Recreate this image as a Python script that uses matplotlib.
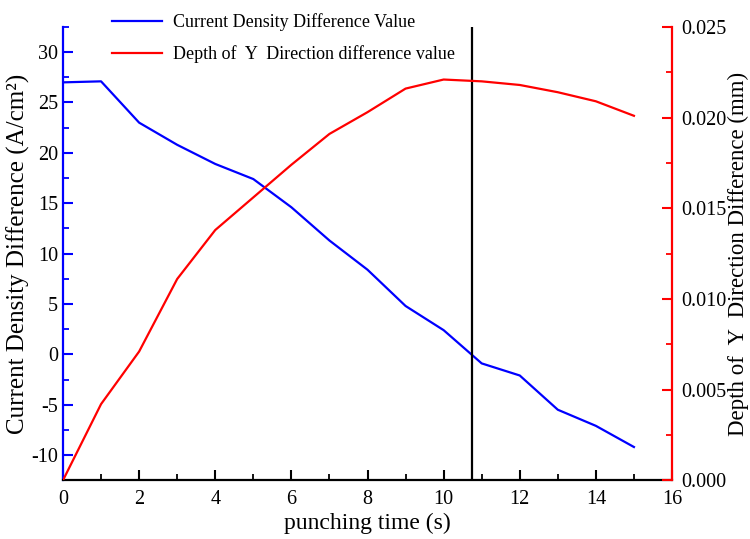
import matplotlib
matplotlib.use("Agg")
import matplotlib.pyplot as plt
from matplotlib.ticker import MultipleLocator, FormatStrFormatter

plt.rcParams['font.family'] = ['Liberation Serif', 'DejaVu Serif']
plt.rcParams['axes.unicode_minus'] = False

time_s = [0, 1, 2, 3, 4, 5, 6, 7, 8, 9, 10, 11, 12, 13, 14, 15]
current_diff = [27.0, 27.1, 23.0, 20.8, 18.9, 17.4, 14.6, 11.3, 8.4, 4.8, 2.4,
                -0.9, -2.1, -5.5, -7.1, -9.2]
depth_diff = [0.0000, 0.0042, 0.0071, 0.0111, 0.0138, 0.0156, 0.0174, 0.0191,
              0.0203, 0.0216, 0.0221, 0.0220, 0.0218, 0.0214, 0.0209, 0.0201]
marker_time = 10.75

fig = plt.figure(figsize=(7.5, 5.39), dpi=100)
ax = fig.add_axes([0.084, 0.109, 0.812, 0.841])
ax2 = ax.twinx()

l1, = ax.plot(time_s, current_diff, color='#0000FF', lw=1.6,
              label='Current Density Difference Value')
l2, = ax2.plot(time_s, depth_diff, color='#FF0000', lw=1.6,
               label='Depth of  Y  Direction difference value')
ax.axvline(marker_time, color='black', lw=1.6)

ax.set_xlim(0, 16)
ax.set_ylim(-12.5, 32.5)
ax2.set_ylim(0, 0.025)

ax.xaxis.set_major_locator(MultipleLocator(2))
ax.xaxis.set_minor_locator(MultipleLocator(1))
ax.yaxis.set_major_locator(MultipleLocator(5))
ax.yaxis.set_minor_locator(MultipleLocator(2.5))
ax2.yaxis.set_major_locator(MultipleLocator(0.005))
ax2.yaxis.set_minor_locator(MultipleLocator(0.0025))
ax2.yaxis.set_major_formatter(FormatStrFormatter('%.3f'))

for a in (ax, ax2):
    a.spines['top'].set_visible(False)
ax2.spines['left'].set_visible(False)
ax2.spines['bottom'].set_visible(False)
ax.spines['right'].set_visible(False)
ax.spines['left'].set_color('#0000FF')
ax.spines['left'].set_linewidth(1.6)
ax.spines['bottom'].set_linewidth(1.6)
ax2.spines['right'].set_color('#FF0000')
ax2.spines['right'].set_linewidth(1.6)

ax.tick_params(axis='both', which='both', direction='in', labelsize=14.5)
ax.tick_params(axis='both', which='major', length=7, width=1.5)
ax.tick_params(axis='both', which='minor', length=4, width=1.3)
ax.tick_params(axis='x', which='major', pad=7)
ax.tick_params(axis='y', which='both', color='#0000FF')
ax2.tick_params(axis='y', which='both', direction='in', color='#FF0000', labelsize=14.5)
ax2.tick_params(axis='y', which='major', length=7, width=1.5, pad=6.5)
ax2.tick_params(axis='y', which='minor', length=4, width=1.3)

ax.set_xlabel('punching time (s)', fontsize=17, labelpad=3)
ax.set_ylabel('Current Density Difference (A/cm²)', fontsize=18, labelpad=1)
ax2.set_ylabel('Depth of  Y  Direction Difference (mm)', fontsize=16.5, labelpad=1)

fig.legend(handles=[l1, l2], loc='upper left', bbox_to_anchor=(0.128, 1.0055),
           frameon=False, fontsize=13, handlelength=2.75, labelspacing=0.8,
           handletextpad=0.6)

fig.savefig('out.png', dpi=100)
